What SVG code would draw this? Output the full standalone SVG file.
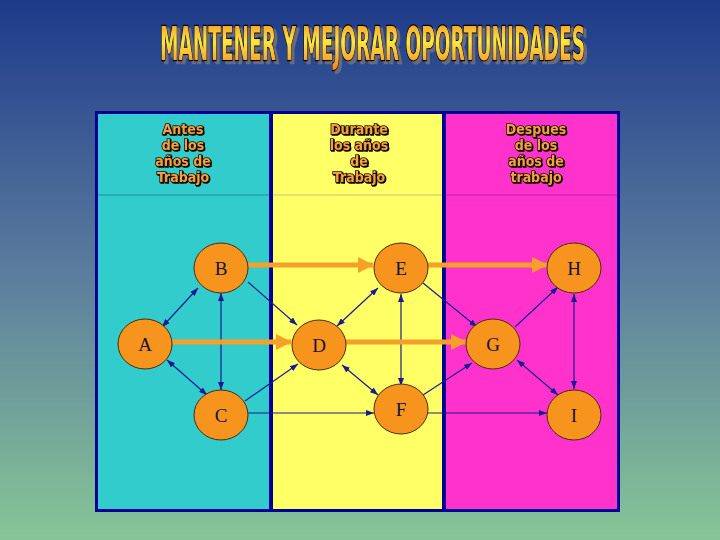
<svg xmlns="http://www.w3.org/2000/svg" width="720" height="540" viewBox="0 0 720 540">
<defs>
<linearGradient id="bg" x1="0" y1="0" x2="0" y2="1">
<stop offset="0" stop-color="#1d3a8a"/>
<stop offset="0.5" stop-color="#5b7c9e"/>
<stop offset="1" stop-color="#86c696"/>
</linearGradient>
<linearGradient id="tg" x1="0" y1="0" x2="0" y2="1">
<stop offset="0" stop-color="#f08a20"/>
<stop offset="0.45" stop-color="#ffe640"/>
<stop offset="1" stop-color="#f08020"/>
</linearGradient>
<filter id="sh" x="-5%" y="-20%" width="110%" height="150%">
<feDropShadow dx="3" dy="3" stdDeviation="0.5" flood-color="#6a6a7a" flood-opacity="1"/>
</filter>
<filter id="sh2" x="-10%" y="-20%" width="130%" height="150%">
<feDropShadow dx="1" dy="1" stdDeviation="0" flood-color="#000" flood-opacity="1"/>
</filter>
<marker id="ah" viewBox="0 0 8 6" markerWidth="8" markerHeight="6" refX="8" refY="3" orient="auto-start-reverse" markerUnits="userSpaceOnUse">
<path d="M0,0 L8,3 L0,6 z" fill="#1a1a90"/>
</marker>
<marker id="oh" viewBox="0 0 16 16" markerWidth="16" markerHeight="16" refX="15" refY="8" orient="auto" markerUnits="userSpaceOnUse">
<path d="M0,0 L16,8 L0,16 z" fill="#f5a028"/>
</marker>
</defs>
<style>
.col{stroke:none}
.hd{font-family:"DejaVu Sans Condensed","DejaVu Sans",sans-serif;font-weight:bold;font-size:14px;fill:#f5a040;stroke:#1a1000;stroke-width:1.6;paint-order:stroke;text-anchor:middle}
.nd ellipse{fill:#f7941d;stroke:#4a2a10;stroke-width:1}
.nd text{font-family:"Liberation Serif",serif;font-size:19px;fill:#14143a;text-anchor:middle}
.thin{stroke:#1a1a90;stroke-width:1.2;fill:none}
.big{stroke:#f5a028;stroke-width:5;fill:none}
</style>
<rect x="0" y="0" width="720" height="540" fill="url(#bg)"/>
<g id="title" filter="url(#sh)">
<text transform="translate(160,60) scale(1,1.9)" x="0" y="0" font-family="DejaVu Sans Condensed,DejaVu Sans,sans-serif" font-weight="bold" font-size="24" textLength="425" lengthAdjust="spacingAndGlyphs" fill="url(#tg)" stroke="#000" stroke-width="1.2" paint-order="stroke">MANTENER Y MEJORAR OPORTUNIDADES</text>
</g>
<g id="frame">
<rect x="95" y="111" width="525" height="401" fill="#000099"/>
<rect class="col" x="98" y="114" width="171" height="395" fill="#33cccc"/>
<rect class="col" x="273" y="114" width="169" height="395" fill="#ffff66"/>
<rect class="col" x="446" y="114" width="171" height="395" fill="#ff33cc"/>
<line x1="98" y1="195" x2="269" y2="195" stroke="#22a4ac" stroke-width="1.5"/>
<line x1="273" y1="195" x2="442" y2="195" stroke="#d8d870" stroke-width="1.5"/>
<line x1="446" y1="195" x2="617" y2="195" stroke="#d02cb4" stroke-width="1.5"/>
</g>
<g id="headers" filter="url(#sh2)">
<text class="hd" x="183" y="134">Antes</text>
<text class="hd" x="183" y="150">de los</text>
<text class="hd" x="183" y="166">años de</text>
<text class="hd" x="183" y="182">Trabajo</text>
<text class="hd" x="359" y="134">Durante</text>
<text class="hd" x="359" y="150">los años</text>
<text class="hd" x="359" y="166">de</text>
<text class="hd" x="359" y="182">Trabajo</text>
<text class="hd" x="536" y="134">Despues</text>
<text class="hd" x="536" y="150">de los</text>
<text class="hd" x="536" y="166">años de</text>
<text class="hd" x="536" y="182">trabajo</text>
</g>
<g id="connectors">
<line class="thin" x1="162" y1="327" x2="198" y2="288" marker-start="url(#ah)" marker-end="url(#ah)"/>
<line class="thin" x1="167" y1="360" x2="207" y2="395" marker-start="url(#ah)" marker-end="url(#ah)"/>
<line class="thin" x1="221" y1="293" x2="221" y2="390" marker-start="url(#ah)" marker-end="url(#ah)"/>
<line class="thin" x1="248" y1="282" x2="297" y2="325" marker-end="url(#ah)"/>
<line class="thin" x1="245" y1="401" x2="298" y2="364" marker-end="url(#ah)"/>
<line class="thin" x1="248" y1="413" x2="374" y2="413" marker-end="url(#ah)"/>
<line class="thin" x1="337" y1="326" x2="378" y2="288" marker-start="url(#ah)" marker-end="url(#ah)"/>
<line class="thin" x1="342" y1="365" x2="378" y2="395" marker-start="url(#ah)" marker-end="url(#ah)"/>
<line class="thin" x1="401" y1="294" x2="401" y2="386" marker-start="url(#ah)" marker-end="url(#ah)"/>
<line class="thin" x1="423" y1="283" x2="477" y2="327" marker-end="url(#ah)"/>
<line class="thin" x1="423" y1="395" x2="472" y2="363" marker-end="url(#ah)"/>
<line class="thin" x1="428" y1="413" x2="547" y2="413" marker-end="url(#ah)"/>
<line class="thin" x1="515" y1="327" x2="558" y2="287" marker-end="url(#ah)"/>
<line class="thin" x1="517" y1="360" x2="558" y2="395" marker-start="url(#ah)" marker-end="url(#ah)"/>
<line class="thin" x1="574" y1="294" x2="574" y2="389" marker-start="url(#ah)" marker-end="url(#ah)"/>
<line class="big" x1="248" y1="265" x2="373" y2="265" marker-end="url(#oh)"/>
<line class="big" x1="428" y1="265" x2="547" y2="265" marker-end="url(#oh)"/>
<line class="big" x1="172" y1="342" x2="291" y2="342" marker-end="url(#oh)"/>
<line class="big" x1="346" y1="342" x2="466" y2="342" marker-end="url(#oh)"/>
</g>
<g id="node-A" class="nd"><ellipse cx="145" cy="344" rx="27" ry="25"/><text x="145" y="351">A</text></g>
<g id="node-B" class="nd"><ellipse cx="221" cy="268" rx="27" ry="25"/><text x="221" y="275">B</text></g>
<g id="node-C" class="nd"><ellipse cx="221" cy="415" rx="27" ry="25"/><text x="221" y="422">C</text></g>
<g id="node-D" class="nd"><ellipse cx="319" cy="345" rx="27" ry="25"/><text x="319" y="352">D</text></g>
<g id="node-E" class="nd"><ellipse cx="401" cy="268" rx="27" ry="25"/><text x="401" y="275">E</text></g>
<g id="node-F" class="nd"><ellipse cx="401" cy="409" rx="27" ry="25"/><text x="401" y="416">F</text></g>
<g id="node-G" class="nd"><ellipse cx="493" cy="344" rx="27" ry="25"/><text x="493" y="351">G</text></g>
<g id="node-H" class="nd"><ellipse cx="574" cy="268" rx="27" ry="25"/><text x="574" y="275">H</text></g>
<g id="node-I" class="nd"><ellipse cx="574" cy="415" rx="27" ry="25"/><text x="574" y="422">I</text></g>
</svg>
